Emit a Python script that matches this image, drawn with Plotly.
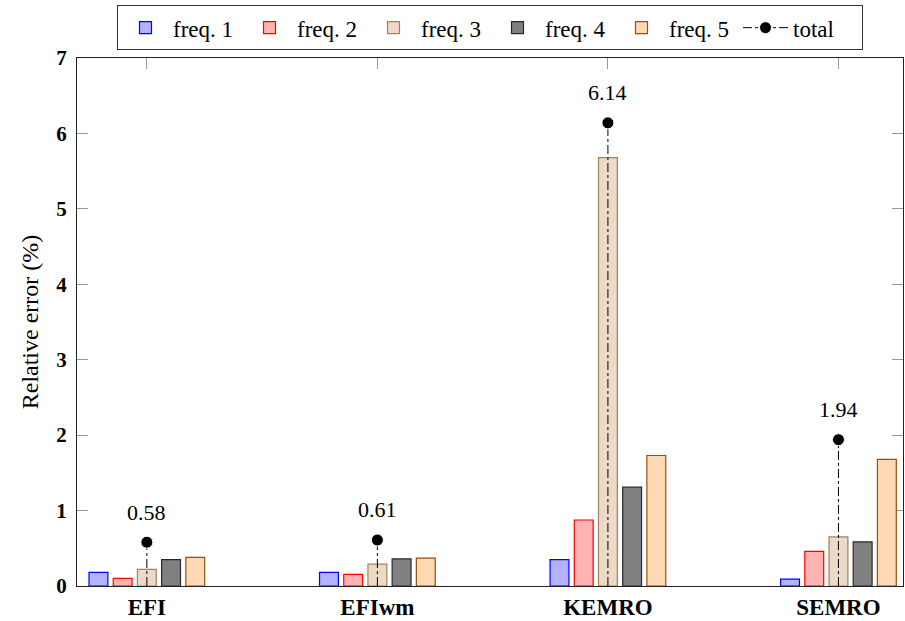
import plotly.graph_objects as go

# Relative error per method and frequency, plus the total error
methods = ["EFI", "EFIwm", "KEMRO", "SEMRO"]
freq1 = [0.18, 0.18, 0.35, 0.09]
freq2 = [0.10, 0.155, 0.875, 0.46]
freq3 = [0.22, 0.29, 5.68, 0.65]
freq4 = [0.35, 0.36, 1.31, 0.585]
freq5 = [0.38, 0.37, 1.73, 1.68]
totals = [0.58, 0.61, 6.14, 1.94]

series_names = ["freq. 1", "freq. 2", "freq. 3", "freq. 4", "freq. 5"]
series_values = [freq1, freq2, freq3, freq4, freq5]
fills = ["rgb(179,179,255)", "rgb(255,179,179)", "rgb(236,217,198)",
         "rgb(128,128,128)", "rgb(255,217,179)"]
edges = ["rgb(0,0,255)", "rgb(255,0,0)", "rgb(160,130,100)",
         "rgb(40,40,40)", "rgb(150,80,10)"]

FONT = "Liberation Serif"

fig = go.Figure()
for name, vals, fc, ec in zip(series_names, series_values, fills, edges):
    fig.add_trace(go.Bar(
        x=methods, y=vals, name=name,
        marker=dict(color=fc, line=dict(color=ec, width=1.2)),
    ))

# Total error: dash-dot stem from the baseline with a dot on top.
# Each stem is [baseline, total, gap]; only the top point carries a marker.
stem_x, stem_y, stem_size = [], [], []
for m, t in zip(methods, totals):
    stem_x += [m, m, None]
    stem_y += [0, t, None]
    stem_size += [0, 12, 24]
fig.add_trace(go.Scatter(
    x=stem_x, y=stem_y, mode="lines+markers", name="total",
    line=dict(color="black", width=1, dash="dashdot"),
    marker=dict(color="black", size=stem_size, opacity=1),
    connectgaps=False, hoverinfo="skip",
))

for m, t in zip(methods, totals):
    fig.add_annotation(
        x=m, y=t, text=f"{t:.2f}", showarrow=False, yshift=30,
        font=dict(family=FONT, size=22, color="black"),
    )

fig.update_layout(
    width=905, height=621,
    margin=dict(l=77, r=1, t=58, b=33),
    paper_bgcolor="white", plot_bgcolor="white",
    barmode="group", bargap=0.475, bargroupgap=0.22,
    font=dict(family=FONT, size=21, color="black"),
    legend=dict(
        orientation="h", x=0.5, xanchor="center", y=1.1, yanchor="top",
        bordercolor="#333", borderwidth=1, bgcolor="white",
        font=dict(family=FONT, size=23), itemwidth=45,
        entrywidth=64, entrywidthmode="pixels",
    ),
    xaxis=dict(
        range=[-0.303, 3.28], showline=True, linecolor="#222", linewidth=1.2,
        mirror="allticks", ticks="inside", ticklen=11, tickcolor="#999",
        showgrid=False, layer="below traces",
        tickfont=dict(family=FONT, size=23, weight="bold"),
    ),
    yaxis=dict(
        range=[0, 7], dtick=1, showline=True, linecolor="#222", linewidth=1.2,
        mirror="allticks", ticks="inside", ticklen=11, tickcolor="#999",
        showgrid=False, zeroline=False, layer="below traces",
        ticklabelstandoff=5,
        tickfont=dict(family=FONT, size=21, weight="bold"),
        title=dict(text="Relative error (%)", font=dict(family=FONT, size=24),
                   standoff=10),
    ),
)

fig.write_html("out.html")
